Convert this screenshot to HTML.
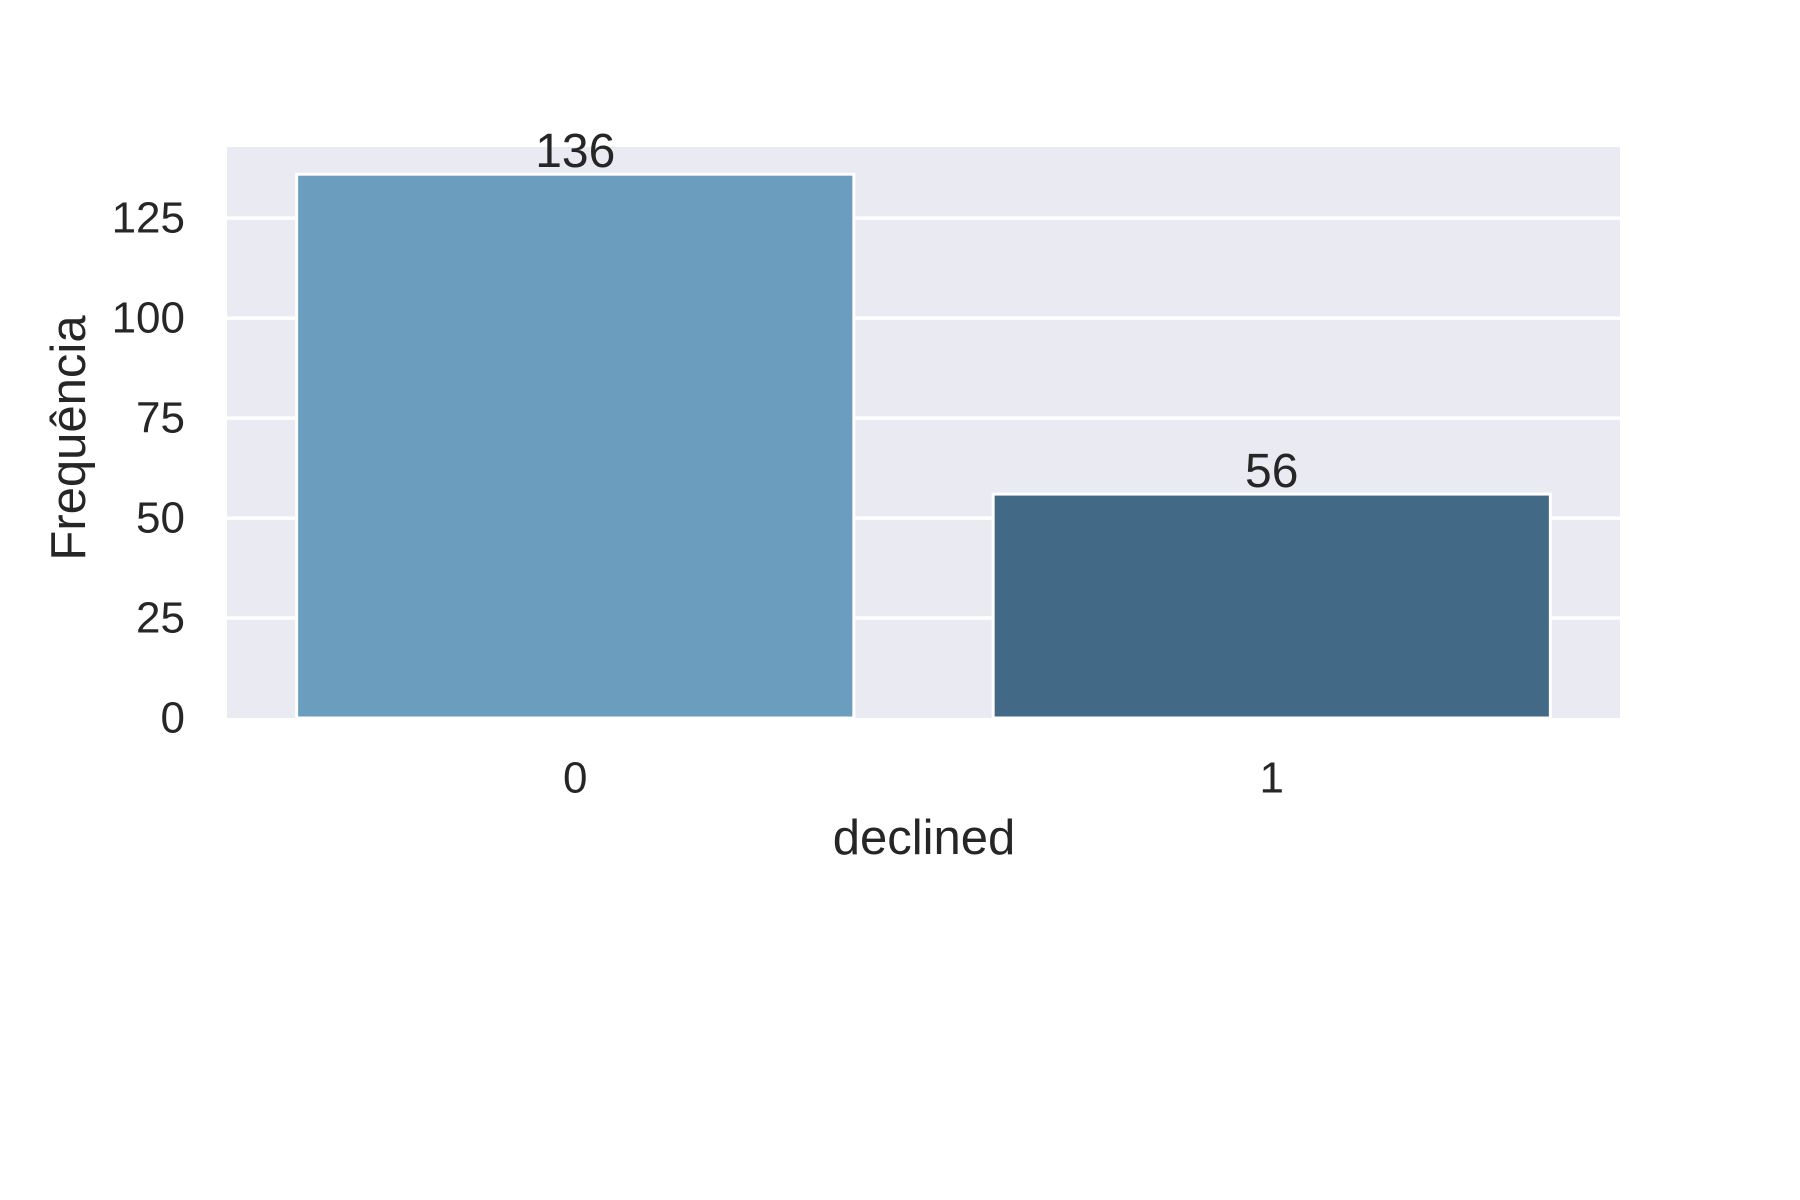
<!DOCTYPE html>
<html><head><meta charset="utf-8"><style>
html,body{margin:0;padding:0;background:#fff;}
svg{display:block;font-family:"Liberation Sans",Arial,sans-serif;}
</style></head><body>
<svg id="chart" width="1800" height="1200" viewBox="0 0 1800 1200" xmlns="http://www.w3.org/2000/svg">
<rect x="227" y="147" width="1393" height="571" fill="#eaeaf2"/>
<g id="grid"></g><g id="bars"></g><g id="labels"></g>
<text transform="translate(69,438) rotate(-90)" text-anchor="middle" dominant-baseline="central" font-size="49" fill="#262626">Frequência</text>
<text x="924" y="838" text-anchor="middle" dominant-baseline="central" font-size="49" fill="#262626">declined</text>
</svg>
<script>
const categories = ["0", "1"];
const counts = [136, 56];
const yTicks = [0, 25, 50, 75, 100, 125];
const colors = ["#6b9dbf", "#426985"];
const NS = "http://www.w3.org/2000/svg";
const L = 227, R = 1620, T = 147, B = 718, yMax = 142.8;
const y = v => B - v / yMax * (B - T);
const x = i => L + (i + 0.5) / categories.length * (R - L);
const unit = (R - L) / categories.length;
function mk(tag, attrs, parent, txt) {
  const e = document.createElementNS(NS, tag);
  for (const k in attrs) e.setAttribute(k, attrs[k]);
  if (txt !== undefined) e.textContent = txt;
  parent.appendChild(e);
  return e;
}
const grid = document.getElementById("grid"), bars = document.getElementById("bars"), labels = document.getElementById("labels");
yTicks.forEach(t => {
  if (t > 0) {
    const g = mk("line", {x1: L, x2: R, y1: y(t), y2: y(t), stroke: "#fff", "stroke-width": 3.5}, grid);
    
    
  }
  const tl = mk("text", {x: 185, y: y(t), "text-anchor": "end", "dominant-baseline": "central", "font-size": 44, fill: "#262626"}, labels, String(t));
  
  
});
categories.forEach((c, i) => {
  const w = unit * 0.8;
  const b = mk("rect", {x: x(i) - w / 2, y: y(counts[i]), width: w, height: B - y(counts[i]), fill: colors[i], stroke: "#fff", "stroke-width": 3}, bars);
  
  
  const v = mk("text", {x: x(i), y: y(counts[i]) - 7, "text-anchor": "middle", "font-size": 48, fill: "#262626"}, labels, String(counts[i]));
  
  
  const xl = mk("text", {x: x(i), y: 778, "text-anchor": "middle", "dominant-baseline": "central", "font-size": 44, fill: "#262626"}, labels, c);
  
  
});
</script>
</body></html>
